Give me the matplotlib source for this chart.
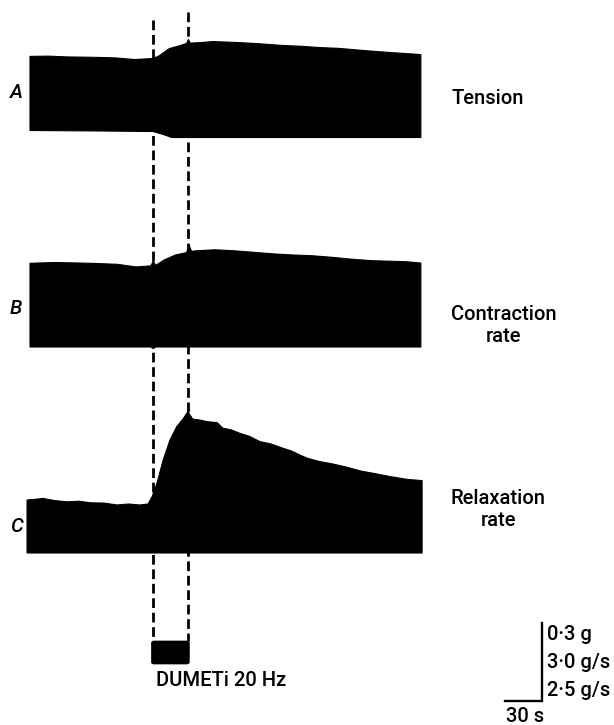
import numpy as np
import matplotlib
matplotlib.use("Agg")
import matplotlib.pyplot as plt
from matplotlib.patches import FancyBboxPatch

plt.rcParams['font.family'] = ['Roboto', 'Liberation Sans', 'DejaVu Sans']
plt.rcParams['font.weight'] = 'medium'
plt.rcParams['lines.scale_dashes'] = False

# ---------------- data ----------------
# time in s from start of record
tension_t = [0, 15, 30, 45, 57, 70, 85, 100, 105, 113, 122, 127, 128.5, 130, 138, 148, 160, 170, 185,
             205, 220, 235, 250, 260, 275, 292, 305, 317]
tension_top = [0.285, 0.286, 0.283, 0.282, 0.281, 0.279, 0.273, 0.277, 0.288, 0.315, 0.327, 0.335, 0.350,
               0.336, 0.338, 0.342, 0.340, 0.338, 0.334, 0.327, 0.324, 0.319, 0.316, 0.312, 0.306,
               0.300, 0.296, 0.292]
tension_bt = [0, 60, 100, 108, 115, 317]
tension_bottom = [0.0, -0.002, -0.004, -0.015, -0.027, -0.027]

contr_t = [0, 20, 40, 55, 71, 86, 98, 100, 102, 109, 118, 127, 129, 131, 135, 150, 166, 182, 198, 213,
           229, 245, 260, 277, 292, 305, 317]
contr_top = [3.22, 3.25, 3.23, 3.21, 3.18, 3.08, 3.12, 3.30, 3.14, 3.35, 3.54, 3.63, 3.92, 3.68, 3.70,
             3.74, 3.70, 3.64, 3.58, 3.54, 3.51, 3.45, 3.38, 3.32, 3.30, 3.28, 3.23]
contr_bt = [0, 98, 100, 102, 317]
contr_bottom = [0.0, 0.0, -0.06, 0.0, 0.0]

relax_t = [-2.4, 4, 10.5, 20, 30, 40, 48.7, 60, 70.6, 80, 89, 95.7, 99, 103, 108, 113.5, 119, 124, 128,
           132, 138, 143.5, 151.7, 156.5, 163, 170, 178, 186.5, 195, 205, 212, 219, 224.7, 235, 246,
           257, 268, 279, 292, 306, 318]
relax_top = [1.70, 1.72, 1.75, 1.68, 1.64, 1.66, 1.61, 1.60, 1.54, 1.57, 1.54, 1.57, 1.80, 2.24, 2.98,
             3.62, 4.05, 4.29, 4.53, 4.29, 4.26, 4.21, 4.18, 4.00, 3.95, 3.84, 3.74, 3.57, 3.50,
             3.36, 3.27, 3.14, 3.04, 2.93, 2.85, 2.75, 2.63, 2.55, 2.45, 2.36, 2.32]
relax_bt = [-2.4, 318]
relax_bottom = [0.0, 0.0]

stim_times = [100, 128]          # DUMETi 20 Hz stimulation (s)
scale_time = 30                  # s
scale_amp = {'A': 0.3, 'B': 3.0, 'C': 2.5}   # g, g/s, g/s

panel_letters = ['A', 'B', 'C']
panel_names = ['Tension', 'Contraction\nrate', 'Relaxation\nrate']
scale_labels = ['0·3 g', '3·0 g/s', '2·5 g/s']
time_label = '30 s'
stim_label = 'DUMETi 20 Hz'

# ---------------- layout ----------------
W, H = 614, 725
fig = plt.figure(figsize=(W / 100, H / 100), dpi=100)
px_per_s = 1.233
x0_px = 30.0
xlim = (-x0_px / px_per_s, (W - x0_px) / px_per_s)
bar_px = 78.0   # vertical calibration bar length in pixels


def overlay_axes(zero_px, px_per_unit, z):
    ax = fig.add_axes([0, 0, 1, 1], zorder=z)
    ax.set_xlim(xlim)
    ax.set_ylim(-(H - zero_px) / px_per_unit, zero_px / px_per_unit)
    ax.axis('off')
    ax.patch.set_alpha(0)
    return ax


def draw_trace(ax, t, top, tb, bot):
    xs = np.concatenate([np.asarray(t, float), np.asarray(tb, float)[::-1]])
    ys = np.concatenate([np.asarray(top, float), np.asarray(bot, float)[::-1]])
    ax.fill(xs, ys, color='black', lw=0.8, ec='black', joinstyle='round')


axA = overlay_axes(130.5, bar_px / scale_amp['A'], 2)
axB = overlay_axes(347.0, bar_px / scale_amp['B'], 2)
axC = overlay_axes(553.0, bar_px / scale_amp['C'], 2)
draw_trace(axA, tension_t, tension_top, tension_bt, tension_bottom)
draw_trace(axB, contr_t, contr_top, contr_bt, contr_bottom)
draw_trace(axC, relax_t, relax_top, relax_bt, relax_bottom)

# pixel-unit overlay (y measured from top) for markers/annotations
axO = fig.add_axes([0, 0, 1, 1], zorder=1)
axO.set_xlim(xlim)
axO.set_ylim(H, 0)
axO.axis('off')
axO.patch.set_alpha(0)

dash = (0, (7.0, 3.4))
axO.plot([stim_times[0]] * 2, [20, 641], color='black', lw=2.0, ls=dash)
axO.plot([stim_times[1]] * 2, [12, 641], color='black', lw=2.0, ls=dash)
stim_box = FancyBboxPatch((stim_times[0] - 1.5, 641), stim_times[1] - stim_times[0] + 2.7, 23,
                          boxstyle='round,pad=0,rounding_size=2', fc='black', ec='black', lw=0.5,
                          mutation_aspect=1)
axO.add_patch(stim_box)
axO.text((stim_times[0] + stim_times[1]) / 2 + 41, 681, stim_label, ha='center', va='center',
         fontsize=14.5)

# calibration bars
sx = 415.2
axO.plot([sx - scale_time, sx, sx], [701, 701, 701 - bar_px], color='black', lw=1.7,
         solid_joinstyle='miter')
for i, lab in enumerate(scale_labels):
    axO.text(sx + 4.0, 635 + i * 27.5, lab, ha='left', va='center', fontsize=14.5)
axO.text(sx - scale_time / 2 + 1, 717, time_label, ha='center', va='center', fontsize=14.5)

# panel letters and names
letter_y = [92, 309, 527]
name_y = [98, 325, 509]
for L, ly, nm, ny in zip(panel_letters, letter_y, panel_names, name_y):
    fig.text(16 / W, 1 - ly / H, L, ha='center', va='center', fontsize=14.5, style='italic')
    fig.text(451 / W, 1 - ny / H, nm, ha='left', va='center', fontsize=14.5,
             multialignment='center', linespacing=1.2)

fig.savefig('out.png', dpi=100, facecolor='white')
